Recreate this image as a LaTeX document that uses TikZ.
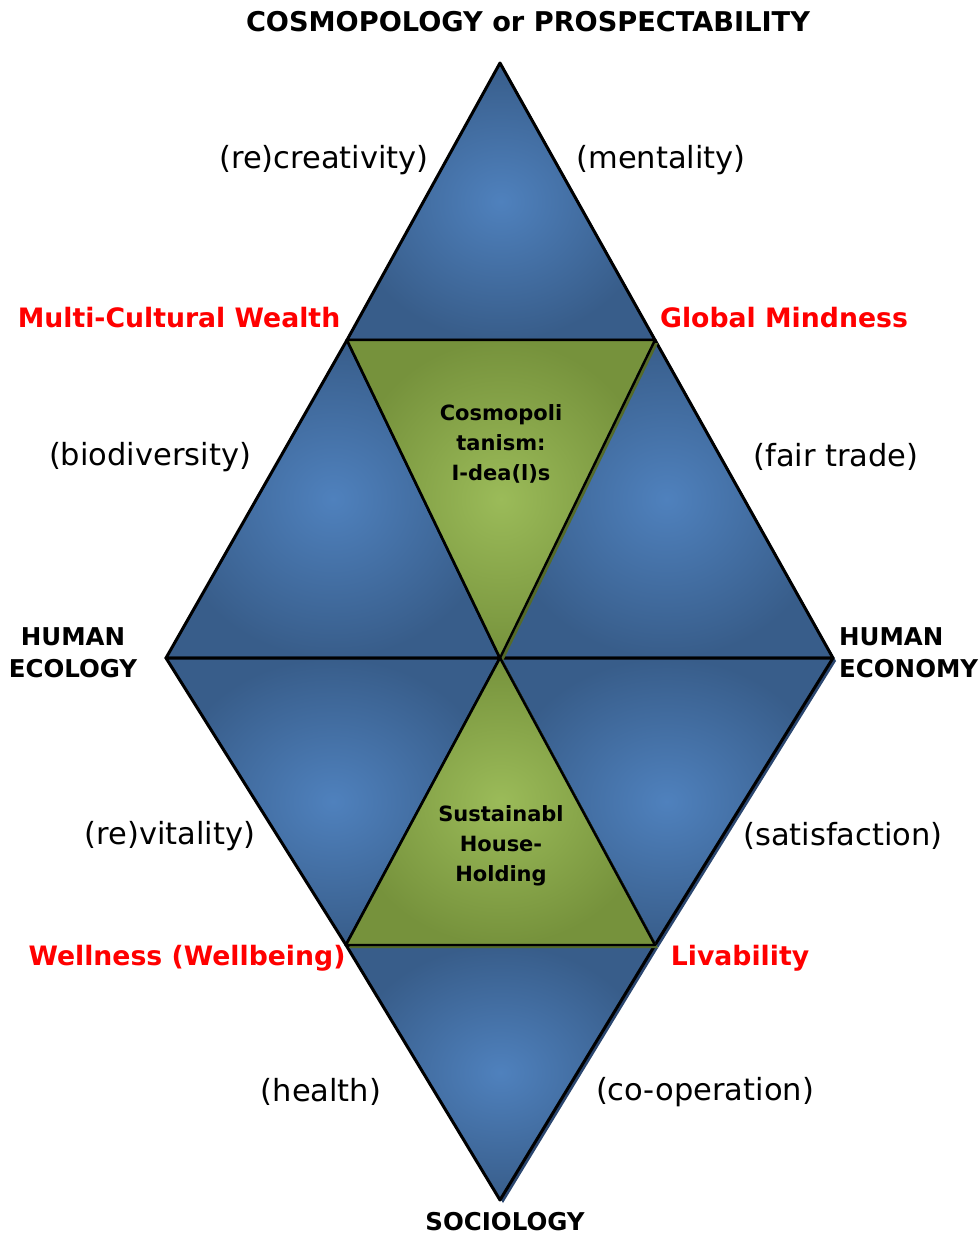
\documentclass[tikz,border=0pt]{standalone}
\usepackage{fontspec}
\setmainfont{DejaVu Sans}
\usepackage{xcolor}
\usepackage{tikz}
\usetikzlibrary{positioning}
\definecolor{bluein}{HTML}{4F81BD}
\definecolor{blueout}{HTML}{385D8A}
\definecolor{blueshadow}{HTML}{2B4770}
\definecolor{greenin}{HTML}{9BBB59}
\definecolor{greenout}{HTML}{76923C}
\definecolor{greenshadow}{HTML}{556B2A}
\tikzset{
  bluetri/.style={inner color=bluein, outer color=blueout, draw=black, line width=3pt, line join=round},
  greentri/.style={inner color=greenin, outer color=greenout, draw=black, line width=2.4pt, line join=round},
  shadowtri/.style={fill=#1, transform canvas={xshift=3pt, yshift=-3pt}},
  pole/.style={font=\bfseries\fontsize{24.5}{32}\selectfont, align=center, inner sep=1pt},
  quality/.style={font=\bfseries\fontsize{26.7}{30}\selectfont, text=red},
  aspect/.style={font=\fontsize{30.5}{34}\selectfont},
  core/.style={font=\bfseries\fontsize{21}{30}\selectfont, align=center}
}

\begin{document}
\begin{tikzpicture}[x=1pt, y=-1pt]
		\useasboundingbox (0,0) rectangle (978,1235);
		% corners of the diamond
		\coordinate (top) at (500,63);
		\coordinate (left) at (166,658);
		\coordinate (right) at (833,658);
		\coordinate (bottom) at (500,1200);
		\coordinate (centre) at (500,658);
		\coordinate (ul) at (347,340);
		\coordinate (ur) at (655,340);
		\coordinate (ll) at (346,945);
		\coordinate (lr) at (655,945);
		% blue triangles
		\foreach \a/\b/\c in {top/ul/ur, ul/left/centre, ur/centre/right, left/centre/ll, centre/right/lr, ll/lr/bottom}
			\path[shadowtri=blueshadow] (\a) -- (\b) -- (\c) -- cycle;
		\foreach \a/\b/\c in {top/ul/ur, ul/left/centre, ur/centre/right, left/centre/ll, centre/right/lr, ll/lr/bottom}
			\shade[bluetri] (\a) -- (\b) -- (\c) -- cycle;
		% green triangles
		\foreach \a/\b/\c in {ul/ur/centre, centre/ll/lr} {
			\path[shadowtri=greenshadow] (\a) -- (\b) -- (\c) -- cycle;
			\shade[greentri] (\a) -- (\b) -- (\c) -- cycle;
		}
		%
		\node[core] (cosmop) at (501,444) {Cosmopoli\\tanism:\\I-dea(l)s};
		\node[core] (sustain) at (501,846) {Sustainabl\\House-\\Holding};
		%
		\node[pole, font=\bfseries\fontsize{27.2}{30}\selectfont] (cosmo) at (528,22) {COSMOPOLOGY or PROSPECTABILITY};
		\node[pole] (hecol) at (73,653) {HUMAN\\ECOLOGY};
		\node[pole, align=left, anchor=west] (hecon) at (838,653) {HUMAN\\ECONOMY};
		\node[pole] (socio) at (505,1222) {SOCIOLOGY};
		%
		\node[quality] (multi) at (179,318) {Multi-Cultural Wealth};
		\node[quality] (global) at (784,318) {Global Mindness};
		\node[quality] (well) at (187,958) {Wellness (Wellbeing)};
		\node[quality] (liv) at (740,958) {Livability};
		%
		\node[aspect] (recreat) at (324,160) {(re)creativity)};
		\node[aspect] (mental) at (661,160) {(mentality)};
		\node[aspect] (biodiv) at (150,457) {(biodiversity)};
		\node[aspect] (fair) at (836,457) {(fair trade)};
		\node[aspect] (revital) at (170,836) {(re)vitality)};
		\node[aspect] (satisf) at (843,836) {(satisfaction)};
		\node[aspect] (health) at (321,1092) {(health)};
		\node[aspect] (coop) at (705,1092) {(co-operation)};
	\end{tikzpicture}
\end{document}
